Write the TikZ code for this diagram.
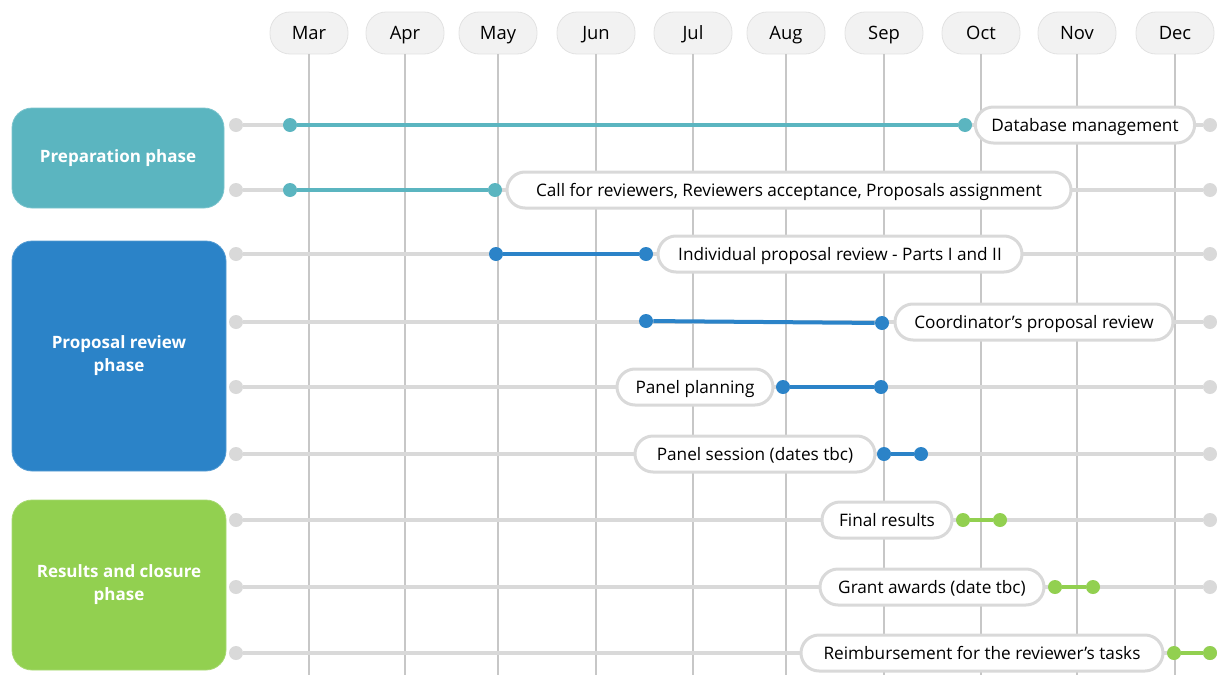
\documentclass[tikz,border=0pt]{standalone}
\usepackage{fontspec}
\setmainfont{Open Sans}
\usetikzlibrary{positioning}
\definecolor{prep}{RGB}{91,181,192}
\definecolor{review}{RGB}{43,131,200}
\definecolor{closure}{RGB}{146,208,80}
\definecolor{rowgray}{RGB}{217,217,217}
\definecolor{monthfill}{RGB}{242,242,242}
\definecolor{monthline}{RGB}{226,226,226}

\begin{document}
\begin{tikzpicture}[
    x=0.5pt, y=-0.5pt,
    month/.style={rectangle, draw=monthline, fill=monthfill, rounded corners=10pt, minimum width=39pt, minimum height=21pt, text height=0.8em, text depth=0.15em, font=\fontsize{9.2}{11}\selectfont},
    gridline/.style={draw=black!22, line width=0.8pt},
    rowline/.style={draw=rowgray, line width=2.3pt},
    enddot/.style={circle, fill=rowgray, minimum size=7pt, inner sep=0pt},
    dot/.style={circle, fill=#1, minimum size=7pt, inner sep=0pt},
    bar/.style={draw=#1, line width=2pt},
    task/.style={rectangle, draw=rowgray, line width=1.5pt, fill=white, rounded corners=9pt, minimum height=18pt, minimum width=#1, inner xsep=8pt, text height=0.8em, text depth=0.15em, font=\fontsize{8.6}{10}\selectfont},
    task/.default=10pt,
    phase/.style={rectangle, fill=#1, draw=#1!80!white, rounded corners=10pt, text=white, align=center, font=\fontsize{8.5}{11.5}\selectfont\bfseries}
]
    \useasboundingbox (0,0) rectangle (1217,675);

    % months and grid
    \foreach \mx/\mname [count=\i] in {309/Mar,405/Apr,498/May,596/Jun,693/Jul,786/Aug,884/Sep,981/Oct,1077/Nov,1175/Dec} {
        \node[month] (m\i) at (\mx,33) {\mname};
        \coordinate (g\i) at (\mx,675);
        \draw[gridline] (m\i) -- (g\i);
    }

    % rows
    \foreach \ry [count=\i] in {125,190,254,322,387,454,520,587,653} {
        \node[enddot] (l\i) at (236,\ry) {};
        \node[enddot] (r\i) at (1210,\ry) {};
        \draw[rowline] (l\i) -- (r\i);
    }

    % phases
    \node[phase=prep, minimum width=106pt, minimum height=50pt] (prepbox) at (118,158) {Preparation phase};
    \node[phase=review, minimum width=107pt, minimum height=115pt] (reviewbox) at (119,356) {Proposal review\\phase};
    \node[phase=closure, minimum width=107pt, minimum height=85pt] (closurebox) at (119,585) {Results and closure\\phase};

    % bars
    \node[dot=prep] (a1) at (290,125) {};
    \node[dot=prep] (b1) at (965,125) {};
    \draw[bar=prep] (a1) -- (b1);
    \node[dot=prep] (a2) at (290,190) {};
    \node[dot=prep] (b2) at (495,190) {};
    \draw[bar=prep] (a2) -- (b2);
    \node[dot=review] (a3) at (496,254) {};
    \node[dot=review] (b3) at (646,254) {};
    \draw[bar=review] (a3) -- (b3);
    \node[dot=review] (a4) at (646,321) {};
    \node[dot=review] (b4) at (882,323) {};
    \draw[bar=review] (a4) -- (b4);
    \node[dot=review] (a5) at (783,387) {};
    \node[dot=review] (b5) at (881,387) {};
    \draw[bar=review] (a5) -- (b5);
    \node[dot=review] (a6) at (884,454) {};
    \node[dot=review] (b6) at (921,454) {};
    \draw[bar=review] (a6) -- (b6);
    \node[dot=closure] (a7) at (963,520) {};
    \node[dot=closure] (b7) at (1000,520) {};
    \draw[bar=closure] (a7) -- (b7);
    \node[dot=closure] (a8) at (1055,587) {};
    \node[dot=closure] (b8) at (1093,587) {};
    \draw[bar=closure] (a8) -- (b8);
    \node[dot=closure] (a9) at (1174,653) {};
    \node[dot=closure] (b9) at (1210,653) {};
    \draw[bar=closure] (a9) -- (b9);

    % task labels
    \node[task=109pt] (t1) at (1085,125) {Database management};
    \node[task=282pt] (t2) at (789,190) {Call for reviewers, Reviewers acceptance, Proposals assignment};
    \node[task=182pt] (t3) at (840,254) {Individual proposal review - Parts I and II};
    \node[task=139pt] (t4) at (1034,322) {Coordinator’s proposal review};
    \node[task=78pt] (t5) at (695,387) {Panel planning};
    \node[task=120pt] (t6) at (755,454) {Panel session (dates tbc)};
    \node[task=65pt] (t7) at (887,520) {Final results};
    \node[task=112pt] (t8) at (932,587) {Grant awards (date tbc)};
    \node[task=181pt] (t9) at (982,653) {Reimbursement for the reviewer’s tasks};
\end{tikzpicture}
\end{document}
